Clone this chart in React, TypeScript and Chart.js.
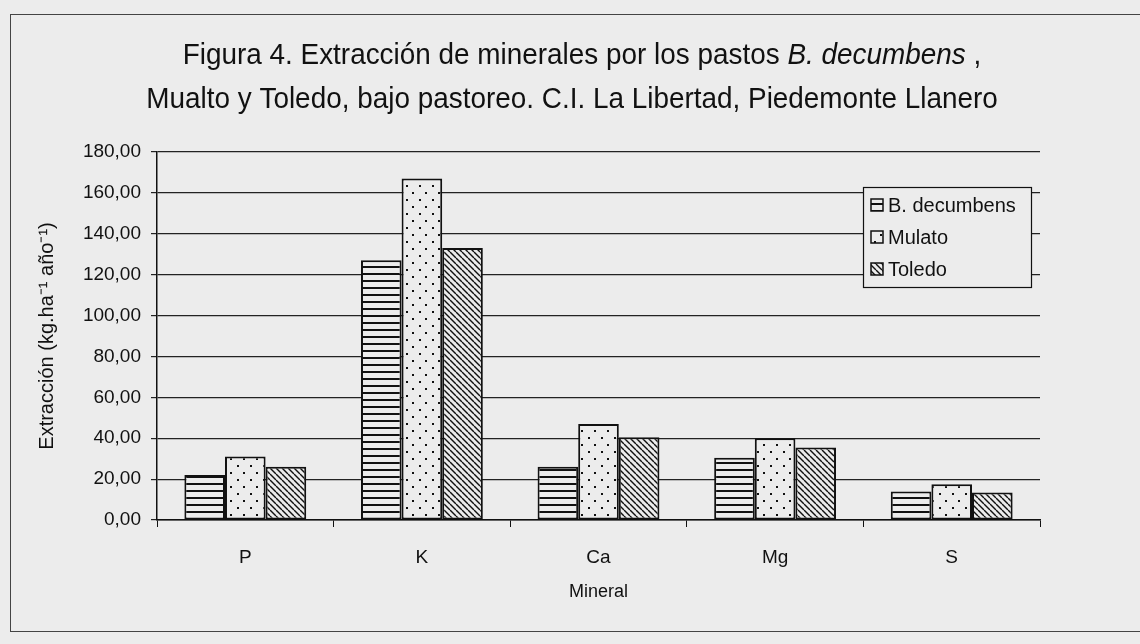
import React, { useEffect, useRef } from "react";
import { Chart, registerables } from "chart.js";

Chart.register(...registerables);

// ---- data ----
const categories = ["P", "K", "Ca", "Mg", "S"];
const seriesNames = ["B. decumbens", "Mulato", "Toledo"];
const bDecumbensValues = [22, 127, 26, 30.5, 14];
const mulatoValues = [31, 167, 47, 40, 17.5];
const toledoValues = [26, 133, 40.5, 35.5, 13.5];
const yTickValues = [0, 20, 40, 60, 80, 100, 120, 140, 160, 180];

const titleLine1Plain = "Figura 4. Extracción de minerales por los pastos ";
const titleLine1Italic = "B. decumbens";
const titleLine1End = " ,";
const titleLine2 = "Mualto y Toledo, bajo pastoreo. C.I. La Libertad, Piedemonte Llanero";
const yAxisTitle = "Extracción (kg.ha⁻¹ año⁻¹)";
const xAxisTitle = "Mineral";

// ---- styles ----
const BG = "#ececec";
const INK = "#111111";
const FONT = "'Liberation Sans', Arial, sans-serif";

function makePattern(kind: string): CanvasPattern | string {
  const c = document.createElement("canvas");
  const ctx = c.getContext("2d");
  if (!ctx) return BG;
  if (kind === "hlines") {
    c.width = 8;
    c.height = 7;
    ctx.fillStyle = BG;
    ctx.fillRect(0, 0, 8, 7);
    ctx.fillStyle = INK;
    ctx.fillRect(0, 0, 8, 2);
  } else if (kind === "dots") {
    c.width = 13;
    c.height = 14;
    ctx.fillStyle = BG;
    ctx.fillRect(0, 0, 13, 14);
    ctx.fillStyle = INK;
    ctx.fillRect(3, 3, 2, 2);
    ctx.fillRect(9, 10, 2, 2);
  } else {
    c.width = 6;
    c.height = 6;
    ctx.fillStyle = BG;
    ctx.fillRect(0, 0, 6, 6);
    ctx.strokeStyle = INK;
    ctx.lineWidth = 1.4;
    for (const k of [-6, 0, 6]) {
      ctx.beginPath();
      ctx.moveTo(k, 0);
      ctx.lineTo(k + 6, 6);
      ctx.stroke();
    }
  }
  const p = ctx.createPattern(c, "repeat");
  return p || BG;
}

const titlePlugin = {
  id: "customTitle",
  afterDraw(chart: any) {
    const ctx = chart.ctx;
    const cx = chart.width / 2 + 12;
    const sx = 0.93;
    ctx.save();
    ctx.fillStyle = INK;
    ctx.textBaseline = "alphabetic";
    ctx.textAlign = "left";
    const normal = `30px ${FONT}`;
    const italic = `italic 30px ${FONT}`;
    // line 1
    ctx.font = normal;
    const w1 = ctx.measureText(titleLine1Plain).width;
    const w3 = ctx.measureText(titleLine1End).width;
    ctx.font = italic;
    const w2 = ctx.measureText(titleLine1Italic).width;
    const total1 = w1 + w2 + w3;
    ctx.save();
    ctx.translate(cx, 64);
    ctx.scale(sx, 1);
    let x = -total1 / 2;
    ctx.font = normal;
    ctx.fillText(titleLine1Plain, x, 0);
    x += w1;
    ctx.font = italic;
    ctx.fillText(titleLine1Italic, x, 0);
    x += w2;
    ctx.font = normal;
    ctx.fillText(titleLine1End, x, 0);
    ctx.restore();
    // line 2
    ctx.save();
    ctx.translate(cx - 10, 108);
    ctx.scale(sx, 1);
    ctx.font = normal;
    ctx.textAlign = "center";
    ctx.fillText(titleLine2, 0, 0);
    ctx.restore();
    ctx.restore();
  },
};

const legendPlugin = {
  id: "customLegend",
  afterDraw(chart: any) {
    const ctx = chart.ctx;
    const area = chart.chartArea;
    const boxW = 168;
    const boxH = 100;
    const left = area.right - 177;
    const top = area.top + 35;
    ctx.save();
    ctx.fillStyle = BG;
    ctx.fillRect(left, top, boxW, boxH);
    ctx.strokeStyle = INK;
    ctx.lineWidth = 1.2;
    ctx.strokeRect(left + 0.5, top + 0.5, boxW, boxH);
    ctx.font = `20px ${FONT}`;
    ctx.textBaseline = "middle";
    ctx.textAlign = "left";
    chart.data.datasets.forEach((ds: any, i: number) => {
      const cy = top + 18 + i * 32;
      ctx.fillStyle = ds.backgroundColor;
      ctx.fillRect(left + 8, cy - 6, 12, 12);
      ctx.strokeStyle = INK;
      ctx.lineWidth = 1.5;
      ctx.strokeRect(left + 8, cy - 6, 12, 12);
      ctx.fillStyle = INK;
      ctx.fillText(ds.label, left + 25, cy + 1);
    });
    ctx.restore();
  },
};

export default function App() {
  const ref = useRef<HTMLCanvasElement | null>(null);

  useEffect(() => {
    if (!ref.current) return;
    const patterns = [makePattern("hlines"), makePattern("dots"), makePattern("diag")];
    const values = [bDecumbensValues, mulatoValues, toledoValues];
    const chart = new Chart(ref.current, {
      type: "bar",
      data: {
        labels: categories,
        datasets: seriesNames.map((name, i) => ({
          label: name,
          data: values[i],
          backgroundColor: patterns[i] as any,
          borderColor: INK,
          borderWidth: 2,
          borderSkipped: false,
          barPercentage: 1,
          categoryPercentage: 0.69,
        })),
      },
      options: {
        animation: false,
        responsive: false,
        devicePixelRatio: 1,
        layout: { padding: { top: 152, right: 100, left: 0, bottom: 0 } },
        plugins: {
          legend: { display: false },
          title: { display: false },
          tooltip: { enabled: false },
        },
        scales: {
          x: {
            grid: {
              display: true,
              drawOnChartArea: false,
              drawTicks: true,
              tickLength: 7,
              color: INK,
              offset: true,
            },
            border: { display: true, color: INK, width: 1.5 },
            ticks: {
              color: INK,
              font: { family: FONT, size: 19 },
              padding: 19,
            },
            title: {
              display: true,
              text: xAxisTitle,
              color: INK,
              font: { family: FONT, size: 18 },
              padding: { bottom: 41, top: 0 },
            },
            afterFit(scale: any) {
              scale.height = 124;
            },
          },
          y: {
            min: 0,
            max: 180,
            afterBuildTicks(scale: any) {
              scale.ticks = yTickValues.map((v) => ({ value: v }));
            },
            grid: {
              color: "#222222",
              lineWidth: 1.2,
              tickLength: 6,
              drawTicks: true,
            },
            border: { display: true, color: INK, width: 1.5 },
            ticks: {
              color: INK,
              font: { family: FONT, size: 19 },
              padding: 10,
              callback: (v: any) => Number(v).toFixed(2).replace(".", ","),
            },
            title: {
              display: true,
              text: yAxisTitle,
              color: INK,
              font: { family: FONT, size: 20 },
              padding: { top: 35, bottom: 0 },
            },
            afterFit(scale: any) {
              scale.width = 157;
            },
          },
        },
      },
      plugins: [titlePlugin, legendPlugin],
    });
    return () => chart.destroy();
  }, []);

  return (
    <div
      style={{
        position: "fixed",
        left: 0,
        top: 0,
        width: 1140,
        height: 644,
        background: BG,
        overflow: "hidden",
      }}
    >
      <div
        style={{
          position: "absolute",
          left: 10,
          top: 14,
          width: 1140,
          height: 616,
          borderTop: "1px solid #444",
          borderLeft: "1px solid #444",
          borderBottom: "1px solid #444",
        }}
      />
      <canvas
        ref={ref}
        width={1140}
        height={644}
        style={{ position: "absolute", left: 0, top: 0, width: 1140, height: 644 }}
      />
    </div>
  );
}
